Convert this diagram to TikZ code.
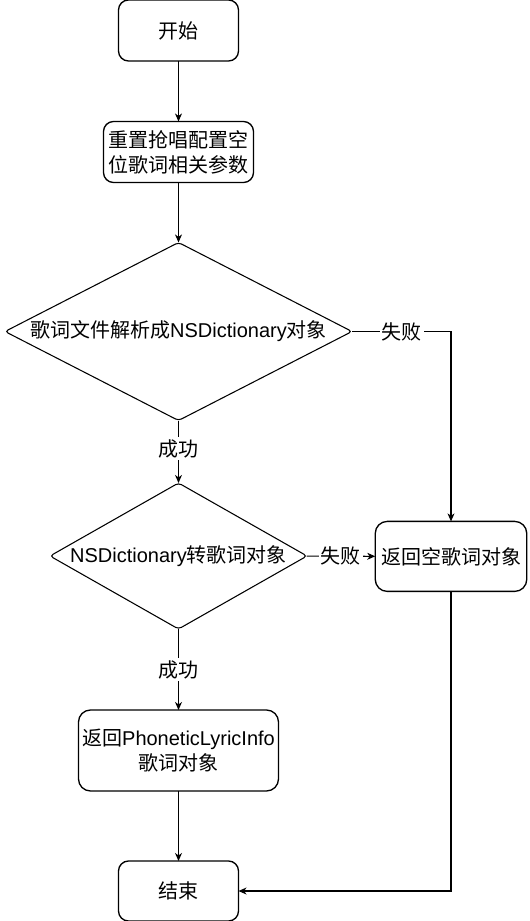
\documentclass[tikz,border=0pt]{standalone}
\usepackage{fontspec}
\setmainfont{Noto Sans CJK SC}
\newfontfamily\latin{Liberation Sans}
\usetikzlibrary{shapes.geometric,arrows.meta}

\begin{document}
\begin{tikzpicture}[x=0.75pt,y=-0.75pt,
	every node/.style={font=\fontsize{15}{18.75}\selectfont,outer sep=0pt},
	stepbox/.style={draw,line width=1pt,rounded corners=7.5pt,align=center,inner sep=0pt},
	decision/.style={draw,line width=0.8pt,diamond,rounded corners=2.5pt,inner sep=0pt},
	flow/.style={draw,line width=0.8pt,-{Stealth[length=6pt,width=5.2pt,inset=1.8pt]}},
	tag/.style={fill=white,inner sep=1.5pt}]

\def\pxl{0.75pt}
% centre line of the main column
\def\colX{178.5}

\useasboundingbox (0,0) rectangle (529,921);

% main column
\node[stepbox,minimum width=120*\pxl,minimum height=61*\pxl] (start) at (\colX,30.5) {开始};
\node[stepbox,minimum width=150*\pxl,minimum height=61*\pxl] (reset) at (\colX,152) {重置抢唱配置空\\位歌词相关参数};
\node[decision,minimum width=347*\pxl,minimum height=178*\pxl,
	label={center:歌词文件解析成{\latin NSDictionary}对象}] (parse) at (\colX,331.5) {};
\node[decision,minimum width=257*\pxl,minimum height=146*\pxl,
	label={center:{\latin NSDictionary}转歌词对象}] (convert) at (\colX,556) {};
\node[stepbox,minimum width=200*\pxl,minimum height=81*\pxl,rounded corners=9pt] (info) at (\colX,750.5) {返回{\latin PhoneticLyricInfo}\\歌词对象};
\node[stepbox,minimum width=120*\pxl,minimum height=60*\pxl] (end) at (\colX,891) {结束};

% failure branch
\node[stepbox,minimum width=151.5*\pxl,minimum height=70*\pxl,rounded corners=9pt] (empty) at (451,556.4) {返回空歌词对象};

\draw[flow] (start) -- (reset);
\draw[flow] (reset) -- (parse);
\draw[flow] (parse) -- node[tag,pos=0.45] {成功} (convert);
\draw[flow] (convert) -- node[tag] {成功} (info);
\draw[flow] (info) -- (end);

\draw[flow] (parse) -- node[tag] {失败} (parse -| empty) -- (empty);
\draw[flow] (convert) -- node[tag] {失败} (empty);
\draw[flow] (empty) |- (end);

\end{tikzpicture}
\end{document}
